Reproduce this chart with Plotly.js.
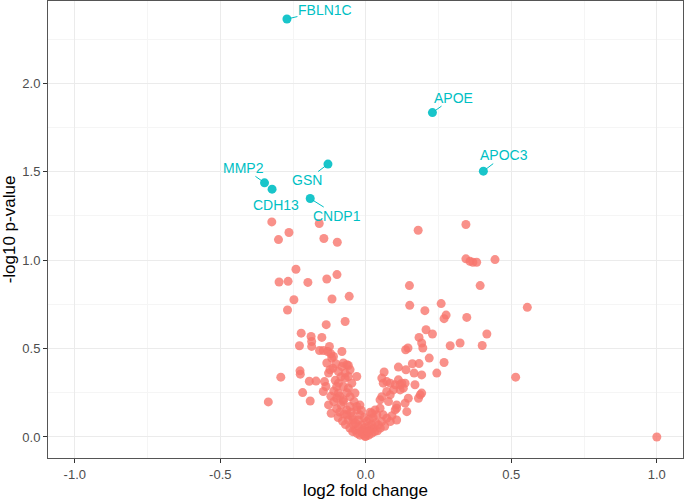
<!DOCTYPE html>
<html>
<head>
<meta charset="utf-8">
<script src="https://cdn.plot.ly/plotly-3.0.1.min.js"></script>
<style>html,body{margin:0;padding:0;background:#fff;}#chart{width:685px;height:500px;}</style>
</head>
<body>
<div id="chart"></div>
<script>
// ---- data ----
var fcLeft = [
-0.323,-0.300,-0.264,-0.160,-0.144,-0.098,
-0.240,-0.298,-0.267,-0.199,-0.134,-0.099,
-0.247,-0.116,-0.057,-0.269,-0.136,-0.071,
-0.222,-0.188,-0.151,-0.228,-0.186,-0.186,
-0.159,-0.146,-0.125,-0.120,-0.111,-0.082,
-0.131,-0.117,-0.113,
-0.292,-0.335,-0.226,-0.225,-0.194,-0.171,
-0.217,-0.191,-0.134,-0.103,-0.128,-0.060,
-0.123,-0.094,-0.082,-0.065,-0.054,
-0.142,-0.137,-0.146,-0.128,-0.119,
-0.094,-0.077,-0.094,-0.100,-0.077,-0.054,
-0.048,-0.060,-0.071,-0.031,
-0.065,-0.048,-0.060,-0.043,-0.025,-0.037,
-0.054,-0.031,-0.077,-0.071,-0.060,-0.037,
-0.077,-0.031,-0.020,-0.065,-0.043,-0.025,
-0.008,0.003,0.015,0.026,-0.014,0.003,-0.002];
var pLeft = [
1.216,1.116,1.156,1.207,1.122,1.101,
0.948,0.876,0.880,0.874,0.893,0.918,
0.776,0.780,0.795,0.718,0.635,0.653,
0.587,0.568,0.563,0.516,0.540,0.512,
0.489,0.489,0.512,0.470,0.455,0.483,
0.483,0.446,0.389,
0.338,0.198,0.374,0.355,0.315,0.316,
0.251,0.203,0.418,0.414,0.361,0.404,
0.380,0.370,0.398,0.408,0.380,
0.313,0.285,0.257,0.181,0.134,
0.304,0.285,0.248,0.219,0.200,0.228,
0.304,0.342,0.361,0.342,
0.153,0.115,0.096,0.068,0.096,0.040,
0.172,0.172,0.418,0.333,0.276,0.248,
0.210,0.153,0.125,0.125,0.096,0.058,
0.040,0.021,0.040,0.049,0.068,0.087,0.002];
var fcCore = [-0.100,-0.090,-0.085,-0.110,-0.095,-0.080,-0.070,-0.075,-0.055,-0.045,-0.030,-0.020,-0.010,0.010,0.020,0.030,0.040,0.050,0.035,0.020,0.010,-0.005,-0.015,0.000,0.008,-0.035,-0.050,-0.040,-0.020,-0.015,-0.005,0.012,0.025,0.065,0.090,0.015,-0.110,-0.105,-0.085,-0.090,-0.065,-0.100,-0.120];
var pCore = [0.160,0.140,0.180,0.200,0.110,0.090,0.070,0.130,0.050,0.030,0.020,0.010,0.015,0.010,0.020,0.030,0.035,0.050,0.080,0.070,0.060,0.050,0.030,0.005,0.030,0.080,0.140,0.200,0.180,0.150,0.110,0.100,0.110,0.060,0.120,0.140,0.260,0.320,0.340,0.230,0.250,0.285,0.230];
var fcRight = [
0.180,0.344,0.344,0.358,0.368,0.381,0.444,
0.150,0.151,0.203,0.393,0.259,0.276,0.269,
0.347,0.555,0.207,0.229,0.416,0.183,0.192,
0.196,0.290,0.324,0.400,0.137,0.145,0.218,
0.269,0.160,0.183,0.515,0.244,0.112,
0.138,0.166,0.192,0.063,0.055,0.072,0.060,
0.084,0.101,0.112,0.124,0.129,0.118,0.169,
0.187,0.181,0.146,0.135,0.106,0.101,0.141,
0.055,0.049,0.072,0.084,0.078,0.032,0.038,
0.021,0.049,0.060,0.072,0.055,0.043,0.084,
0.106,0.106,1.000,
0.118,0.135,0.192,0.095];
var pRight = [
1.169,1.201,1.007,0.993,0.988,0.988,1.003,
0.856,0.744,0.714,0.856,0.754,0.689,0.669,
0.676,0.733,0.606,0.582,0.582,0.563,0.531,
0.503,0.516,0.531,0.517,0.493,0.503,0.446,
0.421,0.414,0.415,0.338,0.361,0.395,
0.380,0.361,0.351,0.367,0.333,0.313,0.304,
0.304,0.295,0.323,0.304,0.276,0.266,0.295,
0.238,0.219,0.219,0.191,0.181,0.153,0.143,
0.228,0.210,0.257,0.238,0.200,0.153,0.125,
0.134,0.163,0.125,0.106,0.087,0.068,0.087,
0.096,0.163,0.000,
0.295,0.304,0.248,0.266];

var geneNames = ["FBLN1C","APOE","APOC3","GSN","MMP2","CDH13","CNDP1"];
var fcGenes = [-0.271, 0.229, 0.404, -0.130, -0.348, -0.322, -0.191];
var pGenes  = [2.363, 1.834, 1.503, 1.543, 1.437, 1.401, 1.348];

var xTickVals = [-1, -0.5, 0, 0.5, 1];
var xTickText = ["-1.0", "-0.5", "0.0", "0.5", "1.0"];
var yTickVals = [0, 0.5, 1, 1.5, 2];
var yTickText = ["0.0", "0.5", "1.0", "1.5", "2.0"];

// ---- styling / layout ----
var RED = "#F8766D", TEAL = "#00BFC4";
var labelOffsets = [[38,-9],[21,-15],[21,-16],[-21,16],[-21,-15],[4,16],[27,17]];
var labelArrow = [true,true,true,true,true,false,true];

var fcOther = fcLeft.concat(fcCore, fcRight);
var pOther = pLeft.concat(pCore, pRight);

var traces = [
  {x: fcOther, y: pOther, type: "scatter", mode: "markers", hoverinfo: "skip",
   marker: {color: RED, size: 9, opacity: 0.8, line: {width: 0}}},
  {x: fcGenes, y: pGenes, type: "scatter", mode: "markers", hoverinfo: "skip",
   marker: {color: TEAL, size: 9, opacity: 0.9, line: {width: 0}}}
];

var annotations = geneNames.map(function(g, i){
  var o = labelOffsets[i];
  var a = {x: fcGenes[i], y: pGenes[i], xref: "x", yref: "y", text: g,
    font: {family: "Liberation Sans, Arial, sans-serif", size: 14, color: TEAL}};
  if (labelArrow[i]) {
    a.showarrow = true; a.arrowhead = 0; a.arrowwidth = 1; a.arrowcolor = TEAL;
    a.ax = o[0]; a.ay = o[1]; a.standoff = 3; a.borderpad = 0;
  } else {
    a.showarrow = false; a.xshift = o[0]; a.yshift = -o[1];
  }
  return a;
});

var axisCommon = {
  showgrid: true, gridcolor: "#EBEBEB", gridwidth: 1, zeroline: false,
  showline: true, mirror: true, linecolor: "#555555", linewidth: 1,
  ticks: "outside", ticklen: 4, tickwidth: 1, tickcolor: "#333333",
  tickfont: {family: "Liberation Sans, Arial, sans-serif", size: 13, color: "#4D4D4D"},
  tickmode: "array"
};

var layout = {
  width: 685, height: 500,
  margin: {l: 48, r: 2, t: 1, b: 42},
  paper_bgcolor: "#FFFFFF", plot_bgcolor: "#FFFFFF",
  showlegend: false,
  font: {family: "Liberation Sans, Arial, sans-serif"},
  xaxis: Object.assign({}, axisCommon, {
    range: [-1.092, 1.09], tickvals: xTickVals, ticktext: xTickText,
    minor: {tickvals: [-0.75, -0.25, 0.25, 0.75], showgrid: true, gridcolor: "#F5F5F5", gridwidth: 1},
    title: {text: "log2 fold change", font: {size: 17, color: "#000000"}, standoff: 6}
  }),
  yaxis: Object.assign({}, axisCommon, {
    range: [-0.119, 2.465], tickvals: yTickVals, ticktext: yTickText,
    minor: {tickvals: [0.25, 0.75, 1.25, 1.75, 2.25], showgrid: true, gridcolor: "#F5F5F5", gridwidth: 1},
    title: {text: "-log10 p-value", font: {size: 17, color: "#000000"}, standoff: 4}
  }),
  annotations: annotations
};

Plotly.newPlot("chart", traces, layout, {staticPlot: true, displayModeBar: false});
</script>
</body>
</html>
